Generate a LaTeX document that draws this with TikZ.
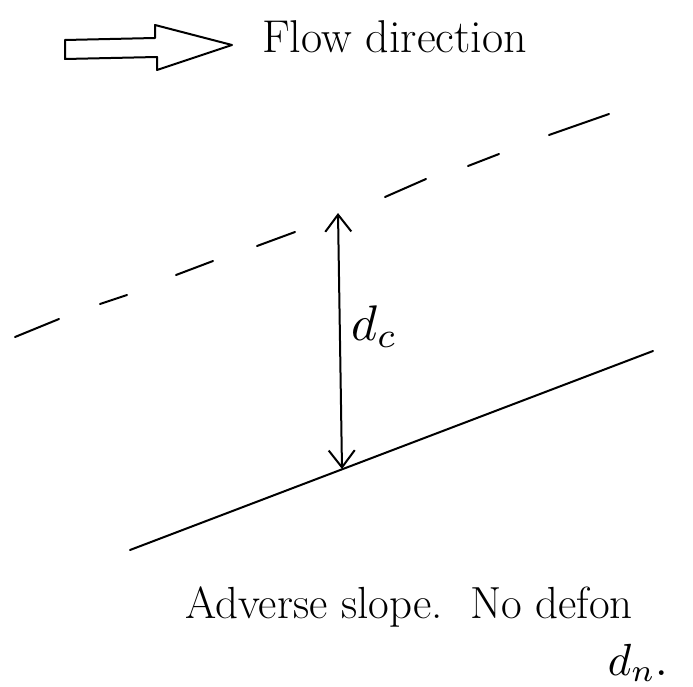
\documentclass[tikz,border=0pt]{standalone}
\usetikzlibrary{arrows.meta}

\tikzset{
  sketch/.style={line width=2pt, line cap=round, line join=round},
  barb/.style={{Straight Barb[length=17pt,width=26pt,line width=2pt]}-{Straight Barb[length=17pt,width=26pt,line width=2pt]}},
  hand/.style={inner sep=0pt, anchor=base west}
}

\begin{document}
\begin{tikzpicture}[x=1pt,y=-1pt]
    \useasboundingbox (0,0) rectangle (693,687);

    % Flow direction arrow
    \draw[sketch] (65,40) -- (155,38) -- (155,25) -- (232,45) -- (157,70)
        -- (157,57) -- (65,59) -- cycle;
    \node[hand] (flow) at (262,53) {\fontsize{46}{52}\selectfont Flow direction};

    % Critical depth line (dashed, drawn by hand)
    \foreach \xa/\ya/\xb/\yb in {15/337/59/319, 100/304/127/295, 176/275/213/261,
        257/246/295/232, 385/197/426/179, 468/166/499/154, 549/135/609/114}
        \draw[sketch] (\xa,\ya) -- (\xb,\yb);

    % Channel bed
    \draw[sketch] (130,550) -- (653,351);

    % Depth d_c
    \coordinate (top) at (338,213);
    \coordinate (bot) at (342,469);
    \draw[sketch,barb] (bot) -- (top);
    \node[hand,scale=5] (dc) at (350,340) {$d_c$};

    % Note
    \node[hand] (note) at (185,618) {\fontsize{45}{52}\selectfont Adverse slope.\ \ No defon};
    \node[hand,scale=4.5] (dn) at (607,675) {$d_n$.};
\end{tikzpicture}
\end{document}
